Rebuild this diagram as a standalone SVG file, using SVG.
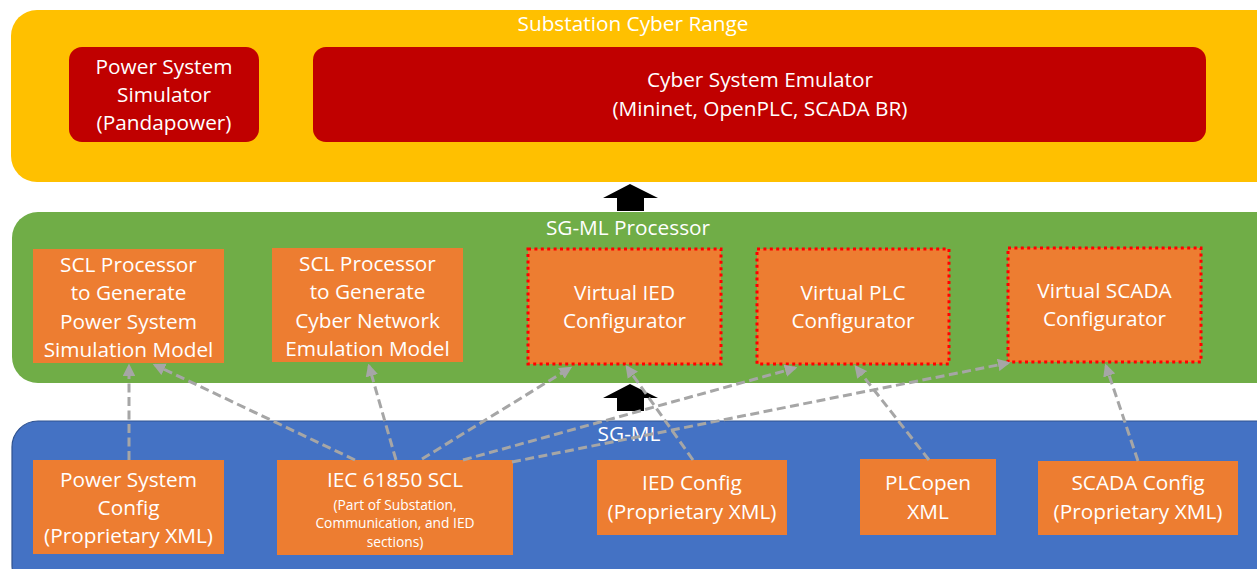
<svg xmlns="http://www.w3.org/2000/svg" width="1257" height="569" viewBox="0 0 1257 569">
  <style>
    text { font-family: "Open Sans", "Liberation Sans", sans-serif; fill: #ffffff; text-anchor: middle; }
    .t { font-size: 20.8px; }
    .s { font-size: 13.8px; }
    .orange { fill: #ED7D31; }
    .virt { fill: #ED7D31; stroke: #FF0000; stroke-width: 3; stroke-dasharray: 3 3.4; }
    .link { fill: none; stroke: #A6A6A6; stroke-width: 3; stroke-dasharray: 9 4.5; marker-end: url(#tip); }
    .up { fill: #000000; }
  </style>
  <defs>
    <marker id="tip" viewBox="0 0 10 10" refX="8" refY="5" markerWidth="4.2" markerHeight="4.2" orient="auto" markerUnits="strokeWidth">
      <path d="M0,0 L10,5 L0,10 z" fill="#A6A6A6"/>
    </marker>
  </defs>

  <!-- Layer: Substation Cyber Range -->
  <g id="cyber-range">
    <rect x="11" y="10" width="1270" height="172" rx="26" fill="#FFC000"/>
    <text class="t" x="633" y="31">Substation Cyber Range</text>
  </g>
  <g id="power-simulator">
    <rect x="69" y="47" width="190" height="95" rx="13" fill="#C00000"/>
    <text class="t" x="164" y="74">Power System</text>
    <text class="t" x="164" y="102">Simulator</text>
    <text class="t" x="164" y="130">(Pandapower)</text>
  </g>
  <g id="cyber-emulator">
    <rect x="313" y="47" width="893" height="95" rx="13" fill="#C00000"/>
    <text class="t" x="760" y="87">Cyber System Emulator</text>
    <text class="t" x="760" y="116">(Mininet, OpenPLC, SCADA BR)</text>
  </g>

  <!-- Layer: SG-ML Processor -->
  <g id="sgml-processor">
    <rect x="12" y="212" width="1270" height="171" rx="26" fill="#70AD47"/>
    <text class="t" x="628" y="235">SG-ML Processor</text>
  </g>
  <g id="scl-power">
    <rect class="orange" x="33" y="249" width="191" height="114"/>
    <text class="t" x="128.5" y="272">SCL Processor</text>
    <text class="t" x="128.5" y="300">to Generate</text>
    <text class="t" x="128.5" y="329">Power System</text>
    <text class="t" x="128.5" y="357">Simulation Model</text>
  </g>
  <g id="scl-cyber">
    <rect class="orange" x="272" y="248" width="191" height="114"/>
    <text class="t" x="367.5" y="271">SCL Processor</text>
    <text class="t" x="367.5" y="299">to Generate</text>
    <text class="t" x="367.5" y="328">Cyber Network</text>
    <text class="t" x="367.5" y="356">Emulation Model</text>
  </g>
  <g id="virtual-ied">
    <rect class="virt" x="528" y="249" width="193" height="115"/>
    <text class="t" x="624.5" y="300">Virtual IED</text>
    <text class="t" x="624.5" y="328">Configurator</text>
  </g>
  <g id="virtual-plc">
    <rect class="virt" x="757" y="249" width="192" height="115"/>
    <text class="t" x="853" y="300">Virtual PLC</text>
    <text class="t" x="853" y="328">Configurator</text>
  </g>
  <g id="virtual-scada">
    <rect class="virt" x="1008" y="248" width="193" height="114"/>
    <text class="t" x="1104.5" y="298">Virtual SCADA</text>
    <text class="t" x="1104.5" y="326">Configurator</text>
  </g>

  <!-- Layer: SG-ML inputs -->
  <g id="sgml">
    <rect x="12" y="421" width="1270" height="170" rx="26" fill="#4472C4" stroke="#2F528F" stroke-width="1.2"/>
    <text class="t" x="629" y="441">SG-ML</text>
  </g>
  <g id="power-config">
    <rect class="orange" x="33" y="460" width="191" height="94"/>
    <text class="t" x="128.5" y="487">Power System</text>
    <text class="t" x="128.5" y="515">Config</text>
    <text class="t" x="128.5" y="543">(Proprietary XML)</text>
  </g>
  <g id="iec-scl">
    <rect class="orange" x="277" y="460" width="236" height="95"/>
    <text class="t" x="395" y="487">IEC 61850 SCL</text>
    <text class="s" x="395" y="510">(Part of Substation,</text>
    <text class="s" x="395" y="528">Communication, and IED</text>
    <text class="s" x="395" y="547">sections)</text>
  </g>
  <g id="ied-config">
    <rect class="orange" x="597" y="460" width="190" height="75"/>
    <text class="t" x="692" y="490">IED Config</text>
    <text class="t" x="692" y="519">(Proprietary XML)</text>
  </g>
  <g id="plcopen">
    <rect class="orange" x="860" y="459" width="136" height="76"/>
    <text class="t" x="928" y="490">PLCopen</text>
    <text class="t" x="928" y="519">XML</text>
  </g>
  <g id="scada-config">
    <rect class="orange" x="1038" y="461" width="200" height="74"/>
    <text class="t" x="1138" y="490">SCADA Config</text>
    <text class="t" x="1138" y="519">(Proprietary XML)</text>
  </g>

  <!-- Layer-to-layer block arrows -->
  <g id="layer-arrows">
    <path class="up" d="M630,184 L658,198 L644,198 L644,211 L617,211 L617,198 L603,198 z"/>
    <path class="up" d="M630,384 L658,398 L644,398 L644,411 L617,411 L617,398 L603,398 z"/>
  </g>

  <!-- Dashed data-flow connectors -->
  <g id="connectors">
    <path class="link" d="M129,460 L129,366"/>
    <path class="link" d="M355,460 L155,365"/>
    <path class="link" d="M396,460 L369,366"/>
    <path class="link" d="M422,459 L570,368"/>
    <path class="link" d="M463,460 L795,368"/>
    <path class="link" d="M512,462 L1008,363"/>
    <path class="link" d="M693,460 L627,367"/>
    <path class="link" d="M929,460 L856,367"/>
    <path class="link" d="M1138,461 L1106,366"/>
  </g>
</svg>
